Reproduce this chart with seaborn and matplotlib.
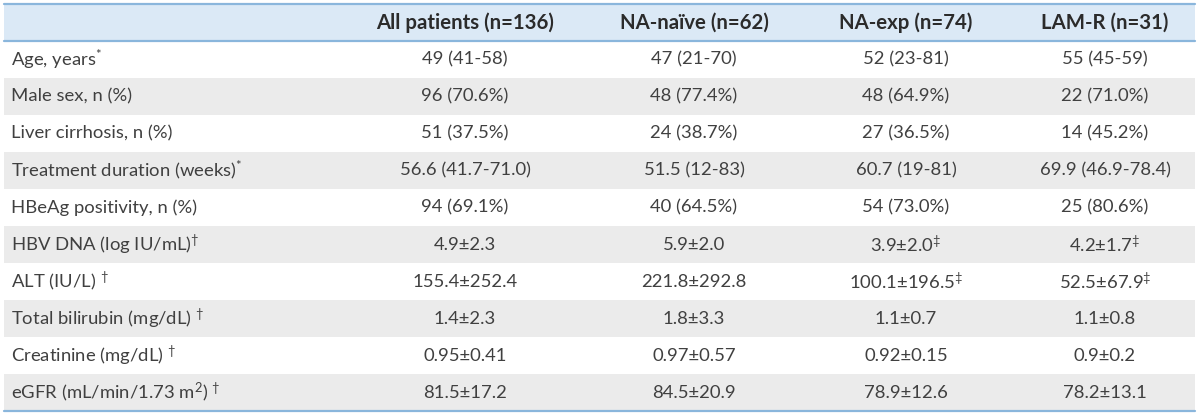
import numpy as np
import matplotlib
matplotlib.use("Agg")
import matplotlib.pyplot as plt
from matplotlib.colors import ListedColormap
import seaborn as sns

# ---- data ----
header_cols = ["All patients (n=136)", "NA-naïve (n=62)", "NA-exp (n=74)", "LAM-R (n=31)"]
row_labels = [
    r"Age, years$^{*}$",
    "Male sex, n (%)",
    "Liver cirrhosis, n (%)",
    r"Treatment duration (weeks)$^{*}$",
    "HBeAg positivity, n (%)",
    r"HBV DNA (log IU/mL)$^{†}$",
    r"ALT (IU/L) $^{†}$",
    r"Total bilirubin (mg/dL) $^{†}$",
    r"Creatinine (mg/dL) $^{†}$",
    r"eGFR (mL/min/1.73 m$^{2}$) $^{†}$",
]
all_patients = ["49 (41-58)", "96 (70.6%)", "51 (37.5%)", "56.6 (41.7-71.0)", "94 (69.1%)",
                "4.9±2.3", "155.4±252.4", "1.4±2.3", "0.95±0.41", "81.5±17.2"]
na_naive = ["47 (21-70)", "48 (77.4%)", "24 (38.7%)", "51.5 (12-83)", "40 (64.5%)",
            "5.9±2.0", "221.8±292.8", "1.8±3.3", "0.97±0.57", "84.5±20.9"]
na_exp = ["52 (23-81)", "48 (64.9%)", "27 (36.5%)", "60.7 (19-81)", "54 (73.0%)",
          r"3.9±2.0$^{‡}$", r"100.1±196.5$^{‡}$", "1.1±0.7", "0.92±0.15", "78.9±12.6"]
lam_r = ["55 (45-59)", "22 (71.0%)", "14 (45.2%)", "69.9 (46.9-78.4)", "25 (80.6%)",
         r"4.2±1.7$^{‡}$", r"52.5±67.9$^{‡}$", "1.1±0.8", "0.9±0.2", "78.2±13.1"]
columns = [all_patients, na_naive, na_exp, lam_r]

# ---- style ----
sns.set_theme(style="white")
FONT = "Lato"
plt.rcParams["font.family"] = [FONT, "DejaVu Sans"]
plt.rcParams["mathtext.fontset"] = "custom"
plt.rcParams["mathtext.rm"] = FONT
plt.rcParams["mathtext.it"] = FONT
plt.rcParams["mathtext.default"] = "regular"

W, H = 1200, 415
fig = plt.figure(figsize=(W / 100, H / 100), dpi=100)
left_px, right_px, top_px, bot_px = 4, 1195, 4, 411
ax = fig.add_axes([left_px / W, 1 - bot_px / H, (right_px - left_px) / W, (bot_px - top_px) / H])

n_rows = len(row_labels) + 1
row_kind = np.array([2] + [i % 2 for i in range(len(row_labels))])[:, None]
cmap = ListedColormap(["#ffffff", "#ebebeb", "#dbe9f6"])
sns.heatmap(row_kind, cmap=cmap, vmin=-0.5, vmax=2.5, cbar=False, ax=ax,
            xticklabels=False, yticklabels=False)
ax.set_xlim(0, 1)
ax.set_ylim(n_rows, 0)
ax.axis("off")

line_col = "#8ab6dc"
for yy in (0, 1, n_rows):
    ax.axhline(yy, color=line_col, lw=1.6, clip_on=False)

def px2x(px):
    return (px - left_px) / (right_px - left_px)

col_centers = [465, 694, 906, 1105]
fs = 13.3
fs_head = 14.7
txt = "#404040"
for c, h in zip(col_centers, header_cols):
    ax.text(px2x(c), 0.5, h, ha="center", va="center", fontsize=fs_head,
            fontweight="bold", color="#2b2b2b")
for i, lab in enumerate(row_labels):
    ax.text(px2x(11), i + 1.5, lab, ha="left", va="center", fontsize=fs, color=txt)
for c, vals in zip(col_centers, columns):
    for i, v in enumerate(vals):
        ax.text(px2x(c), i + 1.5, v, ha="center", va="center", fontsize=fs, color=txt)

fig.savefig("out.png", dpi=100)
